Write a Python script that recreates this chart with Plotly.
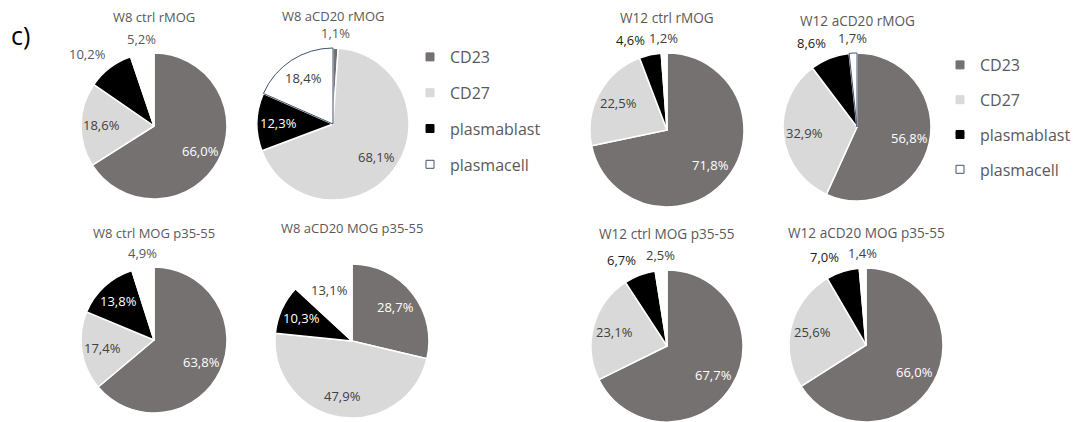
import math
import plotly.graph_objects as go

W, H = 1084, 422

# ---- data -------------------------------------------------------------
categories = ["CD23", "CD27", "plasmablast", "plasmacell"]

titles = [
    "W8 ctrl rMOG", "W8 aCD20 rMOG", "W12 ctrl rMOG", "W12 aCD20 rMOG",
    "W8 ctrl MOG p35-55", "W8 aCD20 MOG p35-55",
    "W12 ctrl MOG p35-55", "W12 aCD20 MOG p35-55",
]

w8_ctrl_rmog = [66.0, 18.6, 10.2, 5.2]
w8_acd20_rmog = [1.1, 68.1, 12.3, 18.4]
w12_ctrl_rmog = [71.8, 22.5, 4.6, 1.2]
w12_acd20_rmog = [56.8, 32.9, 8.6, 1.7]
w8_ctrl_mog = [63.8, 17.4, 13.8, 4.9]
w8_acd20_mog = [28.7, 47.9, 10.3, 13.1]
w12_ctrl_mog = [67.7, 23.1, 6.7, 2.5]
w12_acd20_mog = [66.0, 25.6, 7.0, 1.4]

series = [w8_ctrl_rmog, w8_acd20_rmog, w12_ctrl_rmog, w12_acd20_rmog,
          w8_ctrl_mog, w8_acd20_mog, w12_ctrl_mog, w12_acd20_mog]

# ---- styling ----------------------------------------------------------
FONT = "Open Sans"
LABEL_SIZE = 13
fill_colors = ["#767171", "#D9D9D9", "#000000", "#FFFFFF"]
outline_blue = "#44546A"

# pie placement in pixels: centre x, centre y, radius, title y, title size
slots = [
    (154, 126, 73, 17, 13), (333, 124, 76, 16, 13),
    (667, 130, 77, 17, 13.6), (857, 127, 74, 20, 13.6),
    (154, 340, 73, 233, 13), (352, 341, 77, 228, 13),
    (667, 346, 76, 233, 13.6), (866, 345, 77, 232, 13.6),
]

label_pos = [
    ["inside", "inside", "outside", "outside"],
    ["outside", "inside", "inside", "inside"],
    ["inside", "inside", "outside", "outside"],
    ["inside", "inside", "outside", "outside"],
    ["inside", "inside", "inside", "outside"],
    ["inside", "inside", "inside", "inside"],
    ["inside", "inside", "outside", "outside"],
    ["inside", "inside", "outside", "outside"],
]
outlined = [False, True, False, True, False, False, False, False]

inside_colors = ["#FFFFFF", "#404040", "#FFFFFF", "#404040"]
INSIDE_FRAC = 0.72   # label distance from centre, as a share of the radius
OUTSIDE_GAP = 4      # px between rim and outside label


def fmt(v):
    return f"{v:.1f}".replace(".", ",") + "%"


def text_width(s):
    # rough advance widths for Open Sans, in em
    adv = {",": 0.26, "%": 0.84}
    return LABEL_SIZE * sum(adv.get(ch, 0.572) for ch in s)


def slice_labels(i):
    """Value labels placed on each slice's bisector (clockwise from 12 o'clock)."""
    vals = series[i]
    cx, cy, r = slots[i][:3]
    total = sum(vals)
    mids, acc = [], 0.0
    for v in vals:
        mids.append((acc + v / 2) / total)
        acc += v
    w12 = titles[i].startswith("W12")
    anns, boxes = [], []
    for k in reversed(range(len(vals))):
        ang = 2 * math.pi * mids[k]
        dx, dy = math.sin(ang), -math.cos(ang)
        txt = fmt(vals[k])
        tw, th = text_width(txt), 18
        if label_pos[i][k] == "inside":
            px, py = cx + INSIDE_FRAC * r * dx, cy + INSIDE_FRAC * r * dy
            xa, ya, col = "center", "middle", inside_colors[k]
        else:
            px, py = cx + (r + OUTSIDE_GAP) * dx, cy + (r + OUTSIDE_GAP) * dy
            xa = "right" if dx < -0.3 else ("left" if dx > 0.3 else "center")
            ya = "bottom" if dy < -0.3 else ("top" if dy > 0.3 else "middle")
            if w12:
                col = "#1A1A1A" if k == 2 else "#404040"
            else:
                col = "#595959"
            # keep outside labels from running into each other
            left = px - (tw if xa == "right" else tw / 2 if xa == "center" else 0)
            for (bl, br) in boxes:
                if left < br + 4 and left + tw > bl - 4:
                    shift = (bl - 4) - (left + tw) if dx <= 0 else (br + 4) - left
                    px += shift
                    left += shift
            boxes.append((left, left + tw))
        anns.append(dict(
            text=txt, x=px / W, y=1 - py / H, xref="paper", yref="paper",
            xanchor=xa, yanchor=ya, showarrow=False,
            font=dict(family=FONT, size=LABEL_SIZE, color=col),
        ))
    return anns


fig = go.Figure()

for i, vals in enumerate(series):
    cx, cy, r = slots[i][:3]
    line_cols = ["#FFFFFF", "#FFFFFF", "#FFFFFF",
                 outline_blue if outlined[i] else "#FFFFFF"]
    line_w = [1.5, 1.5, 1.5, 1.0 if outlined[i] else 1.5]
    fig.add_trace(go.Pie(
        labels=categories,
        values=vals,
        sort=False,
        direction="clockwise",
        rotation=0,
        marker=dict(colors=fill_colors, line=dict(color=line_cols, width=line_w)),
        textinfo="none",
        showlegend=False,
        hoverinfo="label+value",
        domain=dict(
            x=[(cx - r) / W, (cx + r) / W],
            y=[max(0, 1 - (cy + r) / H), min(1, 1 - (cy - r) / H)],
        ),
    ))

# legend entries (two legend boxes, one per timepoint block)
for leg in ["legend", "legend2"]:
    for k, name in enumerate(categories):
        fig.add_trace(go.Scatter(
            x=[None], y=[None], mode="markers", name=name,
            legend=leg, legendgroup=f"{leg}-{name}",
            marker=dict(symbol="square", size=8, color=fill_colors[k],
                        line=dict(color=outline_blue if k == 3 else fill_colors[k], width=1)),
            hoverinfo="skip",
        ))

annotations = []
for i, t in enumerate(titles):
    cx, cy, r, ty, ts = slots[i]
    annotations.append(dict(
        text=t, x=cx / W, y=1 - ty / H, xref="paper", yref="paper",
        xanchor="center", yanchor="middle", showarrow=False,
        font=dict(family=FONT, size=ts, color="#595959"),
    ))
    annotations.extend(slice_labels(i))
annotations.append(dict(
    text="c)", x=9 / W, y=1 - 35 / H, xref="paper", yref="paper",
    xanchor="left", yanchor="middle", showarrow=False,
    font=dict(family=FONT, size=25, color="#000000"),
))

legend_style = dict(
    font=dict(family=FONT, size=16, color="#595959"),
    bgcolor="rgba(0,0,0,0)", borderwidth=0,
    itemwidth=30, xanchor="left", yanchor="top",
)

fig.update_layout(
    width=W, height=H, autosize=False,
    margin=dict(l=0, r=0, t=0, b=0),
    paper_bgcolor="#FFFFFF", plot_bgcolor="#FFFFFF",
    xaxis=dict(visible=False), yaxis=dict(visible=False),
    legend=dict(x=410 / W, y=1 - 40 / H, tracegroupgap=12, **legend_style),
    legend2=dict(x=940 / W, y=1 - 48 / H, tracegroupgap=11, **legend_style),
    annotations=annotations,
    showlegend=True,
)

fig.write_html("out.html")
